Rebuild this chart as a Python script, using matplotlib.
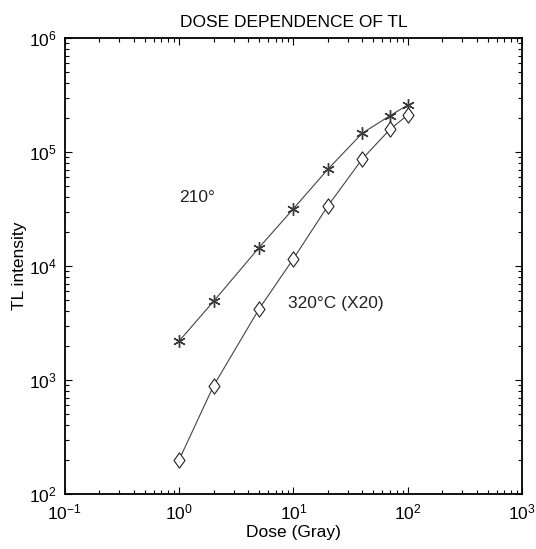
import matplotlib
matplotlib.use("Agg")
import matplotlib.pyplot as plt
from matplotlib.path import Path

plt.rcParams['font.family'] = ['Liberation Sans', 'DejaVu Sans']
plt.rcParams['mathtext.fontset'] = 'custom'
plt.rcParams['mathtext.rm'] = 'Liberation Sans'
plt.rcParams['mathtext.it'] = 'Liberation Sans:italic'

# dose in Gray
dose = [1, 2, 5, 10, 20, 40, 70, 100]
# TL intensity
tl_210 = [2200, 4900, 14500, 31800, 70500, 146000, 208000, 258000]
tl_320 = [200, 890, 4200, 11600, 33600, 86800, 158000, 211000]

fig = plt.figure(figsize=(5.36, 5.49), dpi=100)
ax = fig.add_axes([0.121, 0.100, 0.853, 0.831])

# slightly narrow diamond like the original
diamond = Path([(0, 1), (0.72, 0), (0, -1), (-0.72, 0), (0, 1)],
               [Path.MOVETO, Path.LINETO, Path.LINETO, Path.LINETO, Path.CLOSEPOLY])

line_col = '#444444'
ax.plot(dose, tl_210, color=line_col, lw=0.8, marker=(6, 2, 0), ms=9, mec='#3a3a3a', mew=1.0)
ax.plot(dose, tl_320, color=line_col, lw=0.8, marker=diamond, ms=11, mfc='white', mec='#222222', mew=0.8)

ax.set_xscale('log')
ax.set_yscale('log')
ax.set_xlim(0.1, 1000)
ax.set_ylim(100, 1e6)

ax.text(1.0, 40000, '210°', fontsize=12.5, va='center', ha='left', color='#222222')
ax.text(8.9, 4650, '320°C (X20)', fontsize=12.5, va='center', ha='left', color='#222222')

ax.set_title('DOSE DEPENDENCE OF TL', fontsize=12.5, pad=8)
ax.set_xlabel('Dose (Gray)', fontsize=12.5, labelpad=2)
ax.set_ylabel('TL intensity', fontsize=12.5, labelpad=1)

ax.tick_params(which='both', direction='in', top=True, right=True, labelsize=12.5, width=0.8)
ax.tick_params(which='major', length=5, pad=6)
ax.tick_params(which='minor', length=3)
for s in ax.spines.values():
    s.set_linewidth(1.3)

fig.savefig('out.png', dpi=100)
